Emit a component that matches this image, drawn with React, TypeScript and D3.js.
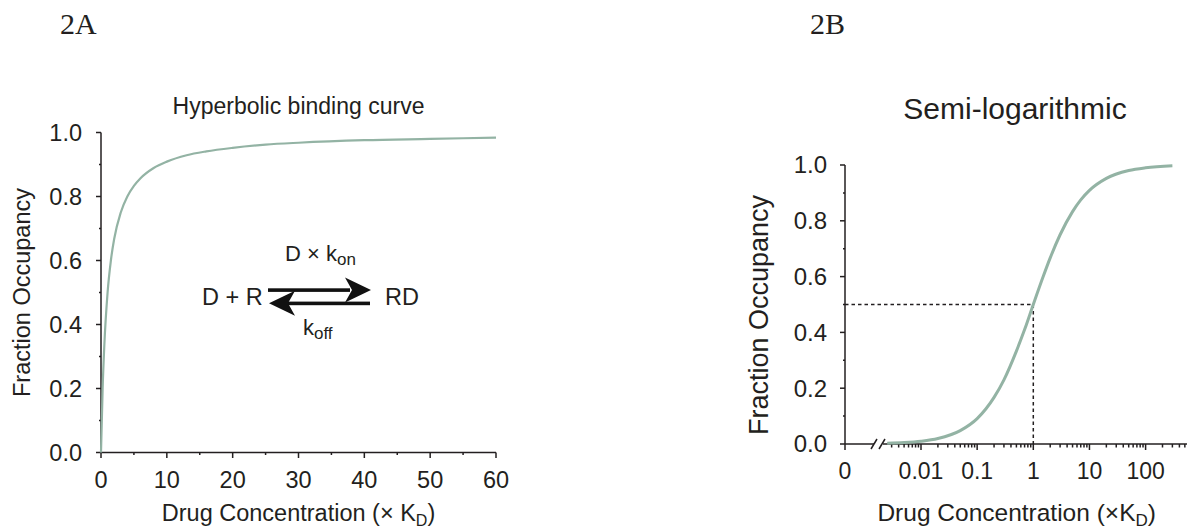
import React from 'react'
import * as d3 from 'd3'

// panel A: hyperbolic binding curve
const concA = [0, 0.25, 0.5, 1, 1.5, 2, 3, 4, 5, 6, 8, 10, 13, 16, 20, 25, 30, 40, 50, 60]
const occA = [0, 0.2, 0.333, 0.5, 0.6, 0.667, 0.75, 0.8, 0.833, 0.857, 0.889, 0.909, 0.929, 0.941, 0.952, 0.962, 0.968, 0.976, 0.98, 0.984]
const xTicksA = [0, 10, 20, 30, 40, 50, 60]
const xMinorA = [5, 15, 25, 35, 45, 55]
const yTicks = [0, 0.2, 0.4, 0.6, 0.8, 1.0]
const yMinor = [0.1, 0.3, 0.5, 0.7, 0.9]

// panel B: semi-logarithmic
const concB = [0.0025, 0.005, 0.01, 0.02, 0.05, 0.1, 0.2, 0.3, 0.5, 0.7, 1, 1.5, 2, 3, 5, 7, 10, 20, 50, 100, 300]
const occB = [0.0025, 0.005, 0.0099, 0.0196, 0.048, 0.091, 0.167, 0.23, 0.333, 0.41, 0.5, 0.6, 0.667, 0.75, 0.833, 0.875, 0.909, 0.952, 0.98, 0.99, 0.997]
const xTicksB = [0.01, 0.1, 1, 10, 100]
const xLabelsB = ['0.01', '0.1', '1', '10', '100']
const halfPoint = { conc: 1, occ: 0.5 }

const INK = '#231f20'
const GREEN = '#93b3a4'
const SANS = 'Liberation Sans, Arial, Helvetica, sans-serif'

export default function App() {
  const xA = d3.scaleLinear().domain([0, 60]).range([101, 496])
  const yA = d3.scaleLinear().domain([0, 1]).range([452.5, 132.5])

  const xB = d3.scaleLog().domain([0.01, 1]).range([921, 1033.3])
  const yB = d3.scaleLinear().domain([0, 1]).range([444, 165])
  const zeroB = 845
  const minorB = d3.scaleLog().domain([0.003, 1200]).ticks().filter(v => xB(v) < 1187)

  const lineA = d3.line<number>().x((d, i) => xA(concA[i])).y(d => yA(d)).curve(d3.curveMonotoneX)
  const lineB = d3.line<number>().x((d, i) => xB(concB[i])).y(d => yB(d)).curve(d3.curveMonotoneX)

  const isMajor = (v: number) => Math.abs(Math.log10(v) - Math.round(Math.log10(v))) < 1e-6

  return (
    <svg width={1187} height={531} style={{ position: 'absolute', left: 0, top: 0 }} fontFamily={SANS} fill={INK}>
      <text x={60} y={34} fontFamily="Liberation Serif, Times New Roman, serif" fontSize={30}>2A</text>
      <text x={810} y={34} fontFamily="Liberation Serif, Times New Roman, serif" fontSize={30}>2B</text>

      {/* ---- panel A ---- */}
      <text x={298.5} y={114} fontSize={23} textAnchor="middle">Hyperbolic binding curve</text>
      <g stroke={INK} strokeWidth={1.5}>
        <line x1={xA(0)} x2={xA(0)} y1={yA(0)} y2={yA(1)} />
        <line x1={xA(0)} x2={xA(60)} y1={yA(0)} y2={yA(0)} />
        {yTicks.map(t => <line key={t} x1={xA(0) - 5} x2={xA(0)} y1={yA(t)} y2={yA(t)} />)}
        {yMinor.map(t => <line key={t} x1={xA(0) - 2} x2={xA(0)} y1={yA(t)} y2={yA(t)} />)}
        {xTicksA.map(t => <line key={t} x1={xA(t)} x2={xA(t)} y1={yA(0)} y2={yA(0) + 5.5} />)}
        {xMinorA.map(t => <line key={t} x1={xA(t)} x2={xA(t)} y1={yA(0)} y2={yA(0) + 2.5} />)}
      </g>
      {yTicks.map(t => (
        <text key={t} x={82} y={yA(t)} dy="0.35em" fontSize={23.5} textAnchor="end">{t.toFixed(1)}</text>
      ))}
      {xTicksA.map(t => (
        <text key={t} x={xA(t)} y={488} fontSize={23.5} textAnchor="middle">{t}</text>
      ))}
      <text transform="translate(30,292.5) rotate(-90)" fontSize={23.5} textAnchor="middle">Fraction Occupancy</text>
      <text x={298.5} y={521} fontSize={23.5} textAnchor="middle">
        Drug Concentration (× K<tspan fontSize={16} dy={5}>D</tspan><tspan dy={-5}>)</tspan>
      </text>
      <path d={lineA(occA) || ''} fill="none" stroke={GREEN} strokeWidth={2.2} />

      {/* reaction scheme */}
      <text x={285} y={261} fontSize={22}>D × k<tspan fontSize={17} dy={4}>on</tspan></text>
      <text x={202} y={305} fontSize={23.5}>D + R</text>
      <text x={385} y={305} fontSize={23.5}>RD</text>
      <text x={303} y={335} fontSize={22}>k<tspan fontSize={17} dy={4}>off</tspan></text>
      <g fill="#111" stroke="none">
        <rect x={268} y={288.3} width={82} height={3.6} />
        <path d="M371,290 L345,277.5 L352,290 L345,302.5 Z" />
        <rect x={288} y={301.6} width={82} height={3.6} />
        <path d="M269,303.3 L295,290.8 L288,303.3 L295,315.8 Z" />
      </g>

      {/* ---- panel B ---- */}
      <text x={1015} y={119} fontSize={30} textAnchor="middle">Semi-logarithmic</text>
      <g stroke={INK} strokeWidth={1.5}>
        <line x1={zeroB} x2={zeroB} y1={yB(0)} y2={yB(1)} />
        <line x1={zeroB} x2={1187} y1={yB(0)} y2={yB(0)} />
        {yTicks.map(t => <line key={t} x1={zeroB - 5} x2={zeroB} y1={yB(t)} y2={yB(t)} />)}
        {yMinor.map(t => <line key={t} x1={zeroB - 2} x2={zeroB} y1={yB(t)} y2={yB(t)} />)}
        <line x1={zeroB} x2={zeroB} y1={yB(0)} y2={yB(0) + 6} />
        {minorB.map(v => (
          <line key={v} x1={xB(v)} x2={xB(v)} y1={yB(0)} y2={yB(0) + (isMajor(v) ? 6 : 3.5)} />
        ))}
      </g>
      {/* axis break */}
      <rect x={874} y={yB(0) - 2} width={9} height={4} fill="#fff" />
      <g stroke={INK} strokeWidth={1.5}>
        <line x1={871} x2={877} y1={yB(0) + 5} y2={yB(0) - 5} />
        <line x1={879} x2={885} y1={yB(0) + 5} y2={yB(0) - 5} />
      </g>
      {yTicks.map(t => (
        <text key={t} x={827} y={yB(t)} dy="0.35em" fontSize={24} textAnchor="end">{t.toFixed(1)}</text>
      ))}
      <text x={zeroB} y={479} fontSize={23} textAnchor="middle">0</text>
      {xTicksB.map((t, i) => (
        <text key={t} x={xB(t)} y={479} fontSize={23} textAnchor="middle">{xLabelsB[i]}</text>
      ))}
      <text transform="translate(768,315) rotate(-90)" fontSize={27} textAnchor="middle">Fraction Occupancy</text>
      <text x={1016.7} y={521} fontSize={24.5} textAnchor="middle">
        Drug Concentration (×K<tspan fontSize={17} dy={5}>D</tspan><tspan dy={-5}>)</tspan>
      </text>
      <g stroke={INK} strokeWidth={1.5} strokeDasharray="3.5,3" fill="none">
        <line x1={zeroB} x2={xB(halfPoint.conc)} y1={yB(halfPoint.occ)} y2={yB(halfPoint.occ)} />
        <line x1={xB(halfPoint.conc)} x2={xB(halfPoint.conc)} y1={yB(halfPoint.occ)} y2={yB(0)} />
      </g>
      <path d={lineB(occB) || ''} fill="none" stroke={GREEN} strokeWidth={3} />
    </svg>
  )
}
